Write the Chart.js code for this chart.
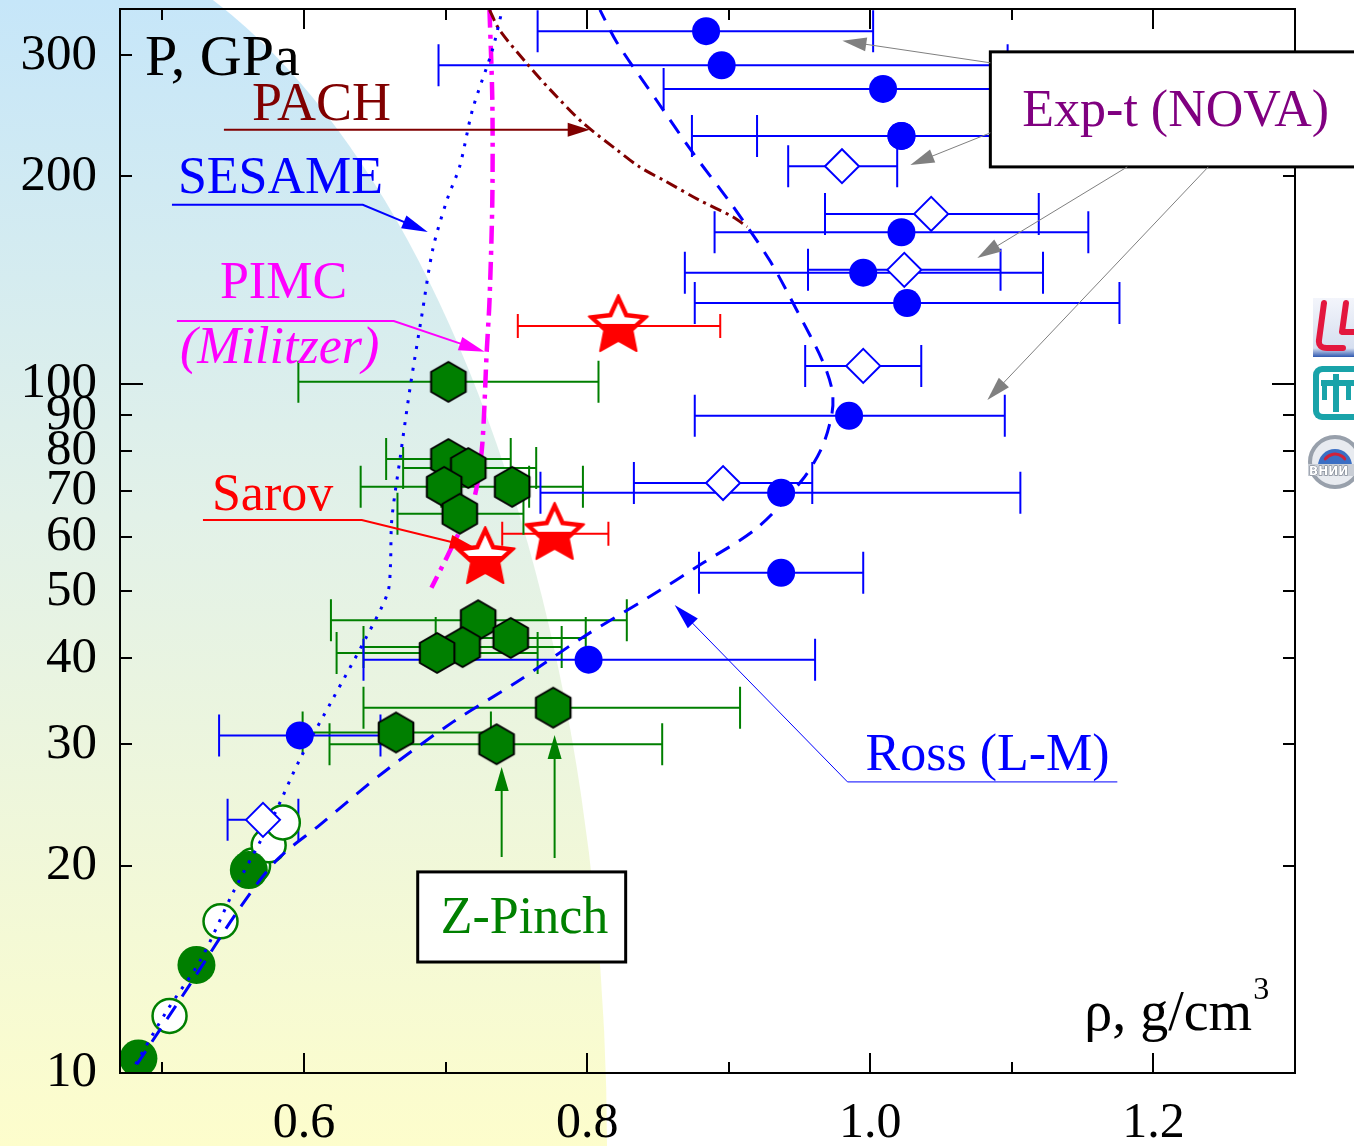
<!DOCTYPE html>
<html>
<head>
<meta charset="utf-8">
<script src="https://cdn.jsdelivr.net/npm/chart.js@4.4.1/dist/chart.umd.min.js"></script>
<style>
  html, body { margin: 0; padding: 0; background: #fff; }
  #wrap { width: 1354px; height: 1146px; }
</style>
</head>
<body>
<div id="wrap"><canvas id="eos" width="1354" height="1146"></canvas></div>
<script>
// Deuterium shock Hugoniot: pressure (GPa) vs density (g/cm3)

// axis ticks
const rhoTicks = [0.5, 0.6, 0.7, 0.8, 0.9, 1.0, 1.1, 1.2];
const rhoLabeled = [0.6, 0.8, 1.0, 1.2];
const pTicks = [10, 20, 30, 40, 50, 60, 70, 80, 90, 100, 200, 300];
const pLong = [10, 100];

// Exp-t (NOVA), filled circles + density error range
const novaRho = [0.884, 0.895, 1.009, 1.022, 1.022, 1.022, 0.995, 1.026, 0.985, 0.937, 0.937, 0.801, 0.597];
const novaP   = [325, 290, 268, 229, 229, 166, 145, 131, 89.9, 69.5, 53.2, 39.8, 30.9];
const novaLo  = [0.765, 0.695, 0.854, 0.874, 0.920, 0.890, 0.869, 0.876, 0.876, 0.767, 0.879, 0.642, 0.540];
const novaHi  = [1.002, 1.097, 1.163, 1.170, 1.124, 1.154, 1.122, 1.176, 1.095, 1.106, 0.995, 0.961, 0.654];

// Exp-t (NOVA), open diamonds
const novaOpenRho = [0.980, 1.043, 1.024, 0.995, 0.896, 0.571];
const novaOpenP   = [207, 176.5, 146.4, 106.2, 71.8, 23.3];
const novaOpenLo  = [0.942, 0.968, 0.956, 0.954, 0.833, 0.546];
const novaOpenHi  = [1.019, 1.119, 1.092, 1.036, 0.959, 0.596];

// Z-Pinch, hexagons
const zRho = [0.702, 0.702, 0.716, 0.699, 0.747, 0.710, 0.723, 0.746, 0.712, 0.694, 0.665, 0.776, 0.736];
const zP   = [100.7, 77.8, 75.5, 70.9, 70.9, 64.8, 45.4, 42.8, 41.5, 40.7, 31.2, 33.9, 30.0];
const zLo  = [0.596, 0.658, 0.670, 0.640, 0.697, 0.666, 0.619, 0.693, 0.642, 0.623, 0.599, 0.642, 0.618];
const zHi  = [0.808, 0.746, 0.764, 0.759, 0.797, 0.755, 0.828, 0.799, 0.782, 0.765, 0.732, 0.908, 0.853];

// gas gun data at low pressure, green circles
const gunFilledRho = [0.483, 0.524, 0.561];
const gunFilledP   = [10.5, 14.35, 19.7];
const gunOpenRho   = [0.505, 0.541, 0.564, 0.575, 0.585];
const gunOpenP     = [12.1, 16.6, 20.0, 21.4, 23.1];

// Sarov, stars
const sarovRho = [0.822, 0.777, 0.728];
const sarovP   = [121.4, 60.6, 55.9];
const sarovLo  = [0.751, 0.740, null];
const sarovHi  = [0.894, 0.815, null];

// model curves
const sesameRho = [0.481, 0.503, 0.527, 0.550, 0.578, 0.597, 0.620, 0.644, 0.659, 0.661, 0.662, 0.668, 0.675, 0.683, 0.691, 0.701, 0.710, 0.719, 0.733, 0.740];
const sesameP   = [10.3, 12.3, 14.6, 18.3, 23.5, 28.5, 34.8, 42.9, 49.7, 54.3, 63.5, 78.4, 99.0, 125, 157, 185, 207, 250, 305, 349];
const rossRho = [0.482, 0.519, 0.555, 0.581, 0.611, 0.656, 0.705, 0.750, 0.797, 0.844, 0.882, 0.920, 0.952, 0.966, 0.973, 0.973, 0.966, 0.948, 0.929, 0.903, 0.875, 0.849, 0.821, 0.809];
const rossP   = [10.3, 13.4, 17.4, 20.4, 22.9, 27.3, 32.3, 36.9, 42.9, 49.1, 55.0, 61.8, 72.6, 81.0, 90.8, 98.0, 108.3, 128, 151, 181, 216, 258, 313, 349];
const pachRho = [0.731, 0.738, 0.757, 0.774, 0.797, 0.821, 0.837, 0.856, 0.879, 0.903, 0.913];
const pachP   = [349, 326.5, 292.4, 267.1, 239.2, 218.6, 206.5, 196.5, 184.9, 174.7, 169.0];
const pimcRho = [0.731, 0.733, 0.733, 0.731, 0.729, 0.726, 0.722, 0.717, 0.708, 0.701, 0.690];
const pimcP   = [349, 258, 185, 132, 111, 82.1, 70.9, 65.0, 60.0, 56.1, 50.6];

const SERIF = '"Liberation Serif", "Times New Roman", serif';
Chart.defaults.font.family = SERIF;
Chart.defaults.color = '#000';

const xy = (xs, ys) => xs.map((v, i) => ({ x: v, y: ys[i] }));

// marker sprites
function makeHex(r, fill) {
  const s = Math.ceil(2 * r + 6), c = document.createElement('canvas');
  c.width = s; c.height = s;
  const g = c.getContext('2d');
  g.beginPath();
  for (let i = 0; i < 6; i++) {
    const a = -Math.PI / 2 + i * Math.PI / 3;
    const px = s / 2 + r * Math.cos(a), py = s / 2 + r * Math.sin(a);
    i ? g.lineTo(px, py) : g.moveTo(px, py);
  }
  g.closePath();
  g.fillStyle = fill; g.fill();
  g.lineWidth = 2; g.strokeStyle = '#000'; g.lineJoin = 'round'; g.stroke();
  return c;
}

function makeStar(R) {
  const s = Math.ceil(2 * R + 10), c = document.createElement('canvas');
  c.width = s; c.height = s;
  const g = c.getContext('2d');
  const cx = s / 2, cy = s / 2;
  const path = (ro, ri) => {
    g.beginPath();
    for (let i = 0; i < 10; i++) {
      const r = i % 2 ? ri : ro;
      const a = -Math.PI / 2 + i * Math.PI / 5;
      const px = cx + r * Math.cos(a), py = cy + r * Math.sin(a);
      i ? g.lineTo(px, py) : g.moveTo(px, py);
    }
    g.closePath();
  };
  path(R, R * 0.48);
  g.fillStyle = '#ff0000'; g.fill();
  g.lineJoin = 'round'; g.lineWidth = 2; g.strokeStyle = '#ff0000'; g.stroke();
  // white highlight on the upper half
  g.save();
  g.beginPath(); g.rect(0, 0, s, cy - 2); g.clip();
  path(R - 8, R * 0.48 - 4);
  g.fillStyle = '#fff'; g.fill();
  g.restore();
  return c;
}

const hexImg = makeHex(20, '#007f00');
const starImg = makeStar(31);

// paints the shaded backdrop
const backdrop = {
  id: 'backdrop',
  beforeDraw(chart) {
    const { ctx, width, height } = chart;
    ctx.save();
    ctx.fillStyle = '#fff';
    ctx.fillRect(0, 0, width, height);
    const grad = ctx.createLinearGradient(0, 0, 0, height);
    grad.addColorStop(0, '#c6e6f9');
    grad.addColorStop(0.45, '#e2f1e8');
    grad.addColorStop(1, '#fdfdcc');
    ctx.beginPath();
    ctx.ellipse(0, 1150, 607, 1228, 0, 0, Math.PI * 2);
    ctx.fillStyle = grad;
    ctx.fill();
    ctx.restore();
  }
};

// horizontal error bars, under the markers
const errorBars = {
  id: 'errorBars',
  beforeDatasetsDraw(chart) {
    const { ctx, scales: { x, y } } = chart;
    chart.data.datasets.forEach(ds => {
      if (!ds.errLo) return;
      ctx.save();
      ctx.strokeStyle = ds.errColor;
      ctx.lineWidth = 2;
      ctx.beginPath();
      ds.data.forEach((pt, i) => {
        if (ds.errLo[i] == null) return;
        const py = y.getPixelForValue(pt.y);
        const x0 = x.getPixelForValue(ds.errLo[i]);
        const x1 = x.getPixelForValue(ds.errHi[i]);
        ctx.moveTo(x0, py); ctx.lineTo(x1, py);
        ctx.moveTo(x0, py - ds.errCap); ctx.lineTo(x0, py + ds.errCap);
        ctx.moveTo(x1, py - ds.errCap); ctx.lineTo(x1, py + ds.errCap);
      });
      ctx.stroke();
      ctx.restore();
    });
  }
};

// frame with inward ticks on all four sides
const frame = {
  id: 'frame',
  afterDatasetsDraw(chart) {
    const { ctx, chartArea: a, scales: { x, y } } = chart;
    ctx.save();
    ctx.strokeStyle = '#000';
    ctx.lineWidth = 2;
    ctx.strokeRect(a.left, a.top, a.right - a.left, a.bottom - a.top);
    ctx.beginPath();
    rhoTicks.forEach(v => {
      const px = Math.round(x.getPixelForValue(v));
      const len = rhoLabeled.includes(v) ? 20 : 11;
      ctx.moveTo(px, a.bottom); ctx.lineTo(px, a.bottom - len);
      ctx.moveTo(px, a.top); ctx.lineTo(px, a.top + len);
    });
    pTicks.forEach(v => {
      const py = Math.round(y.getPixelForValue(v));
      const len = pLong.includes(v) ? 23 : 12;
      ctx.moveTo(a.left, py); ctx.lineTo(a.left + len, py);
      ctx.moveTo(a.right, py); ctx.lineTo(a.right - len, py);
    });
    ctx.stroke();
    ctx.restore();
  }
};

function arrowHead(ctx, fx, fy, tx, ty, len, half) {
  const a = Math.atan2(ty - fy, tx - fx);
  const bx = tx - len * Math.cos(a), by = ty - len * Math.sin(a);
  ctx.beginPath();
  ctx.moveTo(tx, ty);
  ctx.lineTo(bx + half * Math.sin(a), by - half * Math.cos(a));
  ctx.lineTo(bx - half * Math.sin(a), by + half * Math.cos(a));
  ctx.closePath();
  ctx.fill();
}

// labels, boxes and pointers, placed in (rho, P) coordinates
const boxes = [
  { from: [1.0848, 303.3], to: [1.3453, 206.5] },
  { from: [0.6803, 19.58], to: [0.8272, 14.49] }
];
const pointers = [
  { color: '#800000', width: 2, head: 22, path: [[0.5434, 233.7], [0.8018, 233.7]] },
  { color: '#0000ff', width: 2, head: 26, path: [[0.5067, 181.9], [0.6415, 181.9], [0.6874, 166.2]] },
  { color: '#ff00ff', width: 2, head: 26, path: [[0.5102, 123.4], [0.6634, 123.4], [0.7276, 111.3]] },
  { color: '#ff0000', width: 2, head: 26, path: [[0.5286, 63.47], [0.6408, 63.47], [0.7213, 57.8]] },
  { color: '#0000ff', width: 1, head: 26, path: [[1.1745, 26.45], [0.9839, 26.45], [0.8618, 47.79]] },
  { color: '#808080', width: 1, head: 24, path: [[1.0848, 292.4], [0.9803, 314.7]] },
  { color: '#808080', width: 1, head: 24, path: [[1.0848, 231.4], [1.0283, 207.9]] },
  { color: '#808080', width: 1, head: 24, path: [[1.1815, 206.5], [1.0756, 152.3]] },
  { color: '#808080', width: 1, head: 24, path: [[1.2387, 206.5], [1.0827, 94.8]] },
  { color: '#008000', width: 2, head: 24, path: [[0.7396, 20.58], [0.7396, 27.8]] },
  { color: '#008000', width: 2, head: 24, path: [[0.777, 20.51], [0.777, 30.94]] }
];
const texts = [
  { text: 'P, GPa', at: [0.4876, 280.8], color: '#000', font: '58px' },
  { text: 'PACH', at: [0.5632, 241.6], color: '#800000', font: '54px' },
  { text: 'SESAME', at: [0.5109, 189.3], color: '#0000ff', font: '52px' },
  { text: 'PIMC', at: [0.5406, 133.3], color: '#ff00ff', font: '52px' },
  { text: '(Militzer)', at: [0.5124, 107.3], color: '#ff00ff', font: 'italic 52px' },
  { text: 'Sarov', at: [0.5349, 65.63], color: '#ff0000', font: '52px' },
  { text: 'Ross (L-M)', at: [0.9966, 27.53], color: '#0000ff', font: '52px' },
  { text: 'Exp-t (NOVA)', at: [1.1074, 236.8], color: '#800080', font: '52px' },
  { text: 'Z-Pinch', at: [0.6966, 15.97], color: '#008000', font: '52px' },
  { text: 'ρ, g/cm', at: [1.1511, 11.55], color: '#000', font: '56px', sup: '3' }
];

function drawLogos(ctx, a) {
  const x0 = a.right + 18;
  ctx.save();
  // LLNL
  let y0 = 298;
  const lg = ctx.createLinearGradient(0, y0, 0, y0 + 59);
  lg.addColorStop(0, '#f3f5fb'); lg.addColorStop(0.85, '#d6dff0'); lg.addColorStop(1, '#2f58b0');
  ctx.fillStyle = lg;
  ctx.fillRect(x0, y0, 45, 59);
  ctx.strokeStyle = '#e3173e'; ctx.lineWidth = 6; ctx.lineJoin = 'round'; ctx.lineCap = 'round';
  ctx.beginPath();
  ctx.moveTo(x0 + 11, y0 + 5); ctx.lineTo(x0 + 6, y0 + 42);
  ctx.quadraticCurveTo(x0 + 5, y0 + 50, x0 + 14, y0 + 50); ctx.lineTo(x0 + 30, y0 + 50);
  ctx.moveTo(x0 + 33, y0 + 5); ctx.lineTo(x0 + 29, y0 + 34); ctx.lineTo(x0 + 45, y0 + 34);
  ctx.stroke();
  // Sandia
  y0 = 366;
  const teal = '#19a3a9';
  ctx.fillStyle = teal;
  ctx.beginPath(); ctx.roundRect(x0, y0, 50, 54, 9); ctx.fill();
  ctx.fillStyle = '#fff';
  ctx.beginPath(); ctx.roundRect(x0 + 6, y0 + 6, 38, 42, 4); ctx.fill();
  ctx.fillStyle = teal;
  ctx.fillRect(x0 + 8, y0 + 14, 34, 6);
  ctx.fillRect(x0 + 20, y0 + 8, 6, 38);
  ctx.fillRect(x0 + 9, y0 + 14, 5, 20);
  ctx.fillRect(x0 + 33, y0 + 14, 5, 20);
  // VNIIEF
  const cx = x0 + 22, cy = 462;
  ctx.fillStyle = '#e8ebf0';
  ctx.beginPath(); ctx.arc(cx, cy, 27, 0, Math.PI * 2); ctx.fill();
  ctx.strokeStyle = '#98a0ab'; ctx.lineWidth = 4;
  ctx.beginPath(); ctx.arc(cx, cy, 25, 0, Math.PI * 2); ctx.stroke();
  ctx.fillStyle = '#3b6fc4';
  ctx.beginPath(); ctx.arc(cx, cy + 4, 17, Math.PI, 0); ctx.closePath(); ctx.fill();
  ctx.strokeStyle = '#d0223a'; ctx.lineWidth = 3;
  ctx.beginPath(); ctx.arc(cx, cy + 4, 12, Math.PI * 1.2, Math.PI * 1.8); ctx.stroke();
  ctx.fillStyle = '#c9ced6';
  ctx.fillRect(cx - 27, cy + 2, 54, 12);
  ctx.fillStyle = '#fff'; ctx.strokeStyle = '#6a7380'; ctx.lineWidth = 1;
  ctx.font = 'bold 12px "DejaVu Sans"';
  ctx.strokeText('ВНИИ', cx - 26, cy + 13);
  ctx.fillText('ВНИИ', cx - 26, cy + 13);
  ctx.restore();
}

const notes = {
  id: 'notes',
  afterDraw(chart) {
    const { ctx, chartArea, scales: { x, y } } = chart;
    const P = ([r, p]) => [x.getPixelForValue(r), y.getPixelForValue(p)];
    ctx.save();
    boxes.forEach(b => {
      const [x0, y0] = P(b.from), [x1, y1] = P(b.to);
      ctx.fillStyle = '#fff';
      ctx.fillRect(x0, y0, x1 - x0, y1 - y0);
      ctx.strokeStyle = '#000'; ctx.lineWidth = 3;
      ctx.strokeRect(x0, y0, x1 - x0, y1 - y0);
    });
    pointers.forEach(p => {
      const pts = p.path.map(P);
      const [tx, ty] = pts[pts.length - 1], [fx, fy] = pts[pts.length - 2];
      ctx.strokeStyle = p.color; ctx.fillStyle = p.color; ctx.lineWidth = p.width;
      ctx.beginPath();
      ctx.moveTo(pts[0][0], pts[0][1]);
      for (let i = 1; i < pts.length - 1; i++) ctx.lineTo(pts[i][0], pts[i][1]);
      const a = Math.atan2(ty - fy, tx - fx);
      ctx.lineTo(tx - (p.head - 2) * Math.cos(a), ty - (p.head - 2) * Math.sin(a));
      ctx.stroke();
      arrowHead(ctx, fx, fy, tx, ty, p.head, 7);
    });
    ctx.textBaseline = 'alphabetic';
    ctx.textAlign = 'left';
    texts.forEach(t => {
      const [px, py] = P(t.at);
      ctx.font = `${t.font} ${SERIF}`;
      ctx.fillStyle = t.color;
      ctx.fillText(t.text, px, py);
      if (t.sup) {
        const w = ctx.measureText(t.text).width;
        ctx.font = `32px ${SERIF}`;
        ctx.fillText(t.sup, px + w + 1, py - 31);
      }
    });
    ctx.restore();
    drawLogos(ctx, chartArea);
  }
};

const curve = (label, xs, ys, color, width, dash) => ({
  label, data: xy(xs, ys), showLine: true, pointRadius: 0,
  borderColor: color, borderWidth: width, borderDash: dash, tension: 0.3, order: 3
});

new Chart(document.getElementById('eos'), {
  type: 'scatter',
  data: {
    datasets: [
      { label: 'Sarov', data: xy(sarovRho, sarovP), pointStyle: starImg, pointRadius: 32, order: 0,
        errLo: sarovLo, errHi: sarovHi, errColor: '#ff0000', errCap: 12 },
      { label: 'Z-Pinch', data: xy(zRho, zP), pointStyle: hexImg, pointRadius: 20, order: 1,
        errLo: zLo, errHi: zHi, errColor: '#007f00', errCap: 21 },
      { label: 'Exp-t (NOVA)', data: xy(novaRho, novaP), pointStyle: 'circle', pointRadius: 14,
        backgroundColor: '#0000ff', borderWidth: 0, order: 2,
        errLo: novaLo, errHi: novaHi, errColor: '#0000ff', errCap: 21 },
      { label: 'Exp-t (NOVA) open', data: xy(novaOpenRho, novaOpenP), pointStyle: 'rectRot', pointRadius: 17,
        backgroundColor: '#fff', borderColor: '#0000ff', borderWidth: 2, order: 2,
        errLo: novaOpenLo, errHi: novaOpenHi, errColor: '#0000ff', errCap: 21 },
      curve('SESAME', sesameRho, sesameP, '#0000ff', 3, [3, 8]),
      curve('Ross (L-M)', rossRho, rossP, '#0000ff', 3, [16, 11]),
      curve('PACH', pachRho, pachP, '#800000', 3, [12, 5, 3, 5]),
      curve('PIMC', pimcRho, pimcP, '#ff00ff', 4.5, [18, 7, 4, 7]),
      { label: 'gun', data: xy(gunFilledRho, gunFilledP), pointStyle: 'circle', pointRadius: 19,
        backgroundColor: '#007f00', borderWidth: 0, order: 4, clip: 0 },
      { label: 'gun open', data: xy(gunOpenRho, gunOpenP), pointStyle: 'circle', pointRadius: 17,
        backgroundColor: '#fff', borderColor: '#007f00', borderWidth: 2.5, order: 4, clip: 0 }
    ]
  },
  options: {
    responsive: false,
    animation: false,
    events: [],
    // fixed plot box: no automatic room for tick labels
    layout: { autoPadding: false, padding: { top: 9, right: 59, left: 0, bottom: 0 } },
    plugins: { legend: { display: false }, tooltip: { enabled: false } },
    scales: {
      x: {
        type: 'linear', min: 0.47, max: 1.3,
        grid: { display: false, drawTicks: false },
        border: { display: false },
        afterBuildTicks: s => { s.ticks = rhoTicks.map(v => ({ value: v })); },
        afterFit: s => { s.height = 73; s.paddingLeft = 0; s.paddingRight = 0; },
        ticks: {
          autoSkip: false, maxRotation: 0, minRotation: 0, padding: 21,
          font: { size: 50 }, color: '#000',
          callback: v => rhoLabeled.some(l => Math.abs(l - v) < 1e-6) ? v.toFixed(1) : ''
        }
      },
      y: {
        type: 'logarithmic', min: 10, max: 350,
        grid: { display: false, drawTicks: false },
        border: { display: false },
        afterBuildTicks: s => { s.ticks = pTicks.map(v => ({ value: v })); },
        afterFit: s => { s.width = 120; s.paddingTop = 0; s.paddingBottom = 0; },
        ticks: {
          autoSkip: false, padding: 23,
          font: { size: 51 }, color: '#000',
          callback: v => String(v)
        }
      }
    }
  },
  plugins: [backdrop, errorBars, frame, notes]
});
</script>
</body>
</html>
